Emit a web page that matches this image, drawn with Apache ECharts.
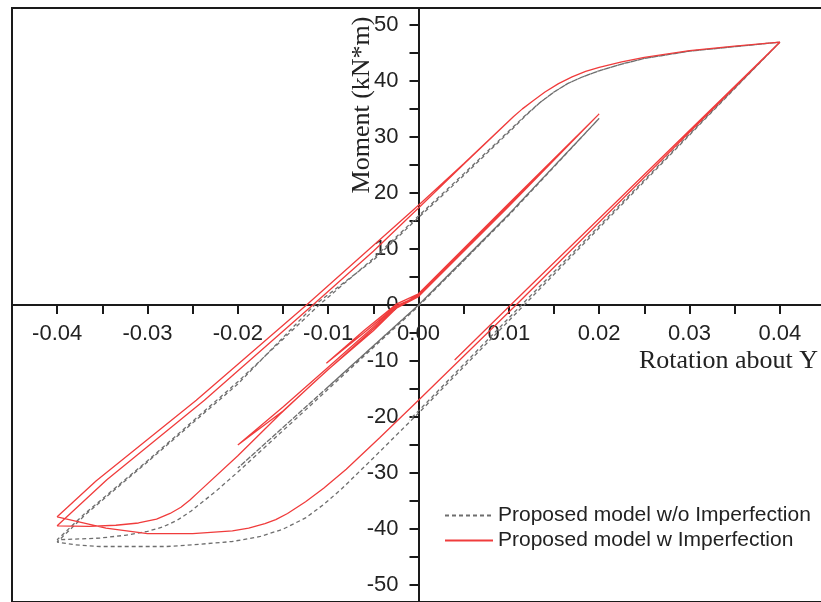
<!DOCTYPE html>
<html>
<head>
<meta charset="utf-8">
<script src="https://cdn.jsdelivr.net/npm/echarts@6/dist/echarts.min.js"></script>
<style>
html,body{margin:0;padding:0;background:#fff;}
#chart{width:821px;height:602px;}
</style>
</head>
<body>
<div id="chart"></div>
<script>
// ---- tick labels ----
const xTicks = [-0.04, -0.03, -0.02, -0.01, 0, 0.01, 0.02, 0.03, 0.04];
const yTicks = [-50, -40, -30, -20, -10, 0, 10, 20, 30, 40, 50];

// ---- series names ----
const seriesNames = ['Proposed model w/o Imperfection', 'Proposed model w Imperfection'];

// ---- Proposed model w/o Imperfection (rotation, moment) ----
const grayPath = [
  [0, 0], [0.005, 7.9], [0.01, 16.2], [0.005, 7.9], [0, 0], [-0.005, -7.3], [-0.01, -14.6],
  [-0.005, -7.3], [0, 0], [0.01, 16.2], [0.02, 33.3], [0.01, 16.2], [0, 0], [-0.01, -14.6],
  [-0.02, -29.1], [-0.01, -14.6], [0, 0], [0.01, 16.2], [0.02, 33.3],
  [0.01, 16.0], [0, -0.2], [-0.01, -15.0], [-0.0135, -20.2], [-0.02, -29.8], [-0.0224, -33.2],
  [-0.0238, -35.0], [-0.0252, -36.8], [-0.0267, -38.4], [-0.0283, -39.6], [-0.03, -40.4],
  [-0.0325, -41.1], [-0.0353, -41.6], [-0.04, -41.9],
  [-0.037, -37.3], [-0.03, -27.8], [-0.02, -13.7], [-0.011, 0], [-0.005, 8.3], [0, 15.9], [0.005, 23.4],
  [0.0105, 31.8], [0.012, 34.1], [0.0135, 36.2], [0.015, 38.0], [0.0165, 39.5], [0.018, 40.6],
  [0.02, 41.8], [0.0225, 43.0], [0.025, 44.0], [0.03, 45.3], [0.035, 46.1], [0.04, 46.9],
  [0.0117, 0], [0, -19.3], [-0.005, -27.3], [-0.0085, -32.8], [-0.0105, -35.6], [-0.0125, -38.0],
  [-0.015, -40.0], [-0.0175, -41.3], [-0.0206, -42.2], [-0.025, -42.8], [-0.0279, -43.1],
  [-0.0353, -43.1], [-0.038, -42.8], [-0.04, -42.3],
  [-0.0368, -37.3], [-0.03, -28.0], [-0.02, -14.1], [-0.0115, 0], [-0.005, 8.0], [0, 15.6],
  [0.005, 23.1], [0.0105, 31.6], [0.012, 34.0], [0.0135, 36.2], [0.015, 38.0], [0.0165, 39.5],
  [0.018, 40.6], [0.02, 41.8], [0.0225, 43.0], [0.025, 44.0], [0.03, 45.3], [0.035, 46.1], [0.04, 46.9],
  [0.0114, 0], [0, -18.9], [-0.001, -20.5]
];

// ---- Proposed model w Imperfection (rotation, moment) ----
const redPath = [
  [0, 1.8], [0.005, 9.9], [0.01, 17.9], [0.005, 9.7], [0, 1.6], [-0.0024, -0.1], [-0.006, -4.9],
  [-0.0102, -10.4], [-0.006, -4.5], [-0.0024, 0.2], [0, 2.0], [0.01, 18.1], [0.02, 34.1],
  [0.01, 17.8], [0, 1.7], [-0.0024, -0.2], [-0.01, -11.1], [-0.015, -18.2], [-0.02, -25.0],
  [-0.015, -18.9], [-0.01, -11.5], [-0.005, -4.6], [-0.0024, -0.5], [0, 1.9], [0.01, 17.9], [0.02, 34.1],
  [0.01, 17.6], [0, 1.5], [-0.0025, -0.6], [-0.0117, -14.0], [-0.0154, -19.6], [-0.02, -26.9],
  [-0.0243, -33.3], [-0.0253, -34.8], [-0.0263, -36.1], [-0.0275, -37.2], [-0.029, -38.2],
  [-0.031, -38.9], [-0.0335, -39.3], [-0.0365, -39.5], [-0.04, -39.4],
  [-0.0345, -31.2], [-0.0237, -17.0], [-0.0117, 0], [-0.005, 9.6], [0, 17.3], [0.005, 25.1],
  [0.0105, 33.6], [0.0115, 35.0], [0.0128, 36.6], [0.014, 38.0], [0.0155, 39.5], [0.017, 40.7],
  [0.0185, 41.7], [0.02, 42.4], [0.0225, 43.4], [0.025, 44.2], [0.03, 45.4], [0.035, 46.2], [0.04, 46.9],
  [0.0108, 0], [0, -17.0], [-0.0043, -23.7], [-0.008, -29.3], [-0.0105, -32.7], [-0.0125, -35.1],
  [-0.0145, -37.2], [-0.0158, -38.3], [-0.017, -39.0], [-0.0188, -39.8], [-0.0206, -40.3],
  [-0.025, -40.8], [-0.03, -40.8], [-0.0346, -39.8], [-0.04, -37.8],
  [-0.0357, -31.4], [-0.0246, -17.0], [-0.0124, 0], [0, 17.8], [0.005, 25.2], [0.0105, 33.6],
  [0.0115, 35.0], [0.0128, 36.6], [0.014, 38.0], [0.0155, 39.5], [0.017, 40.7], [0.0185, 41.7],
  [0.02, 42.4], [0.0225, 43.4], [0.025, 44.2], [0.03, 45.4], [0.035, 46.2], [0.04, 46.9],
  [0.0102, 0], [0.004, -9.8]
];

const axisColor = '#1a1a1a';
const labelFont = 'Arial, "Liberation Sans", sans-serif';
const serifFont = '"Times New Roman", "Liberation Serif", serif';

function near(list, v, eps) {
  for (let i = 0; i < list.length; i++) if (Math.abs(list[i] - v) < eps) return true;
  return false;
}

// grid geometry (pixels)
const G = {left: 12, top: 8, width: 813, height: 594};
const xMin = -0.045, xMax = 0.045, yMin = -53, yMax = 53;
// move the axes onto the zero lines
const yAxisOffset = -G.width * (0 - xMin) / (xMax - xMin);
const xAxisOffset = -G.height * (0 - yMin) / (yMax - yMin);

const chart = echarts.init(document.getElementById('chart'), null, {renderer: 'canvas'});
chart.setOption({
  animation: false,
  backgroundColor: '#ffffff',
  grid: {
    left: G.left, top: G.top, width: G.width, height: G.height,
    show: true, borderColor: axisColor, borderWidth: 2, backgroundColor: 'transparent',
    containLabel: false, outerBoundsMode: 'none'
  },
  legend: {
    orient: 'vertical',
    left: 439, top: 500,
    itemWidth: 48, itemHeight: 14, itemGap: 4,
    itemStyle: {opacity: 0},
    textStyle: {fontFamily: labelFont, fontSize: 21, color: '#222', lineHeight: 21},
    data: seriesNames
  },
  xAxis: {
    type: 'value', position: 'bottom', offset: xAxisOffset,
    min: xMin, max: xMax,
    minInterval: 0.01, maxInterval: 0.01,
    splitLine: {show: false},
    axisLine: {onZero: false, lineStyle: {color: axisColor, width: 2}},
    axisTick: {show: true, length: 9, lineStyle: {color: axisColor, width: 2}},
    minorTick: {show: true, splitNumber: 2, length: 9, lineStyle: {color: axisColor, width: 2}},
    axisLabel: {
      showMinLabel: false, showMaxLabel: false,
      margin: 18, fontFamily: labelFont, fontSize: 22, color: '#222',
      formatter: function (v) { return near(xTicks, v, 1e-6) ? Number(v).toFixed(2) : ''; }
    }
  },
  yAxis: {
    type: 'value', position: 'left', offset: yAxisOffset,
    min: yMin, max: yMax,
    minInterval: 10, maxInterval: 10,
    splitLine: {show: false},
    axisLine: {onZero: false, lineStyle: {color: axisColor, width: 2}},
    axisTick: {show: true, length: 9, lineStyle: {color: axisColor, width: 2}},
    minorTick: {show: true, splitNumber: 2, length: 9, lineStyle: {color: axisColor, width: 2}},
    axisLabel: {
      showMinLabel: false, showMaxLabel: false,
      margin: 20, fontFamily: labelFont, fontSize: 22, color: '#222',
      formatter: function (v) { return near(yTicks, v, 1e-6) ? String(Math.round(v)) : ''; }
    }
  },
  graphic: [
    {
      type: 'text', x: 362, y: 105, rotation: Math.PI / 2,
      style: {text: 'Moment (kN*m)', font: '26px ' + serifFont, fill: '#222',
              textAlign: 'center', textVerticalAlign: 'middle'}
    },
    {
      type: 'text', x: 818, y: 361,
      style: {text: 'Rotation about Y', font: '26px ' + serifFont, fill: '#222',
              textAlign: 'right', textVerticalAlign: 'middle'}
    }
  ],
  series: [
    {
      name: seriesNames[0], type: 'line', data: grayPath,
      symbol: 'none', showSymbol: false, smooth: false,
      lineStyle: {color: '#6e6e6e', width: 1.3, type: [4, 3]},
      itemStyle: {color: '#6e6e6e'}
    },
    {
      name: seriesNames[1], type: 'line', data: redPath,
      symbol: 'none', showSymbol: false, smooth: false,
      lineStyle: {color: '#f03c3c', width: 1.3},
      itemStyle: {color: '#f03c3c'}
    }
  ]
});
</script>
</body>
</html>
